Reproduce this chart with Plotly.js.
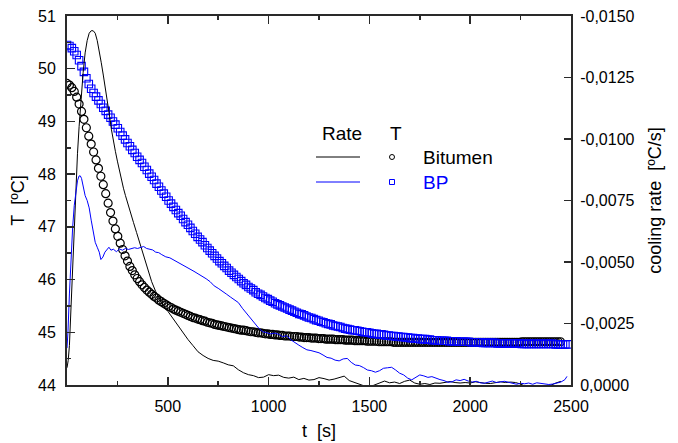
<!DOCTYPE html>
<html>
<head>
<meta charset="utf-8">
<script src="https://cdn.plot.ly/plotly-3.0.1.min.js"></script>
<style>html,body{margin:0;padding:0;background:#fff;}#chart{width:678px;height:443px;}</style>
</head>
<body>
<div id="chart"></div>
<script>
// ---- data ----
var tT = [
0,12,24,36,48,60,72,84,96,108,
120,132,144,156,168,180,192,204,216,228,
240,252,264,276,288,300,312,324,336,348,
360,372,384,396,408,420,432,444,456,468,
480,492,504,516,528,540,552,564,576,588,
600,612,624,636,648,660,672,684,696,708,
720,732,744,756,768,780,792,804,816,828,
840,852,864,876,888,900,912,924,936,948,
960,972,984,996,1008,1020,1032,1044,1056,1068,
1080,1092,1104,1116,1128,1140,1152,1164,1176,1188,
1200,1212,1224,1236,1248,1260,1272,1284,1296,1308,
1320,1332,1344,1356,1368,1380,1392,1404,1416,1428,
1440,1452,1464,1476,1488,1500,1512,1524,1536,1548,
1560,1572,1584,1596,1608,1620,1632,1644,1656,1668,
1680,1692,1704,1716,1728,1740,1752,1764,1776,1788,
1800,1812,1824,1836,1848,1860,1872,1884,1896,1908,
1920,1932,1944,1956,1968,1980,1992,2004,2016,2028,
2040,2052,2064,2076,2088,2100,2112,2124,2136,2148,
2160,2172,2184,2196,2208,2220,2232,2244,2256,2268,
2280,2292,2304,2316,2328,2340,2352,2364,2376,2388,
2400,2412,2424,2436,2448,2460,2472,2484];

var tempBitumen = [
49.72,49.69,49.64,49.57,49.46,49.33,49.19,49.04,48.88,48.72,
48.57,48.42,48.27,48.11,47.96,47.80,47.63,47.45,47.27,47.11,
46.96,46.82,46.69,46.57,46.45,46.35,46.25,46.17,46.09,46.02,
45.96,45.90,45.85,45.80,45.76,45.72,45.68,45.65,45.61,45.58,
45.55,45.52,45.49,45.47,45.44,45.42,45.40,45.38,45.36,45.34,
45.32,45.30,45.28,45.27,45.25,45.24,45.22,45.21,45.19,45.18,
45.17,45.15,45.14,45.13,45.12,45.11,45.10,45.09,45.08,45.07,
45.06,45.05,45.04,45.04,45.03,45.02,45.01,45.01,45.00,44.99,
44.99,44.98,44.97,44.97,44.96,44.96,44.95,44.95,44.94,44.94,
44.93,44.93,44.93,44.92,44.92,44.92,44.91,44.91,44.90,44.90,
44.90,44.89,44.89,44.89,44.88,44.88,44.88,44.87,44.87,44.87,
44.87,44.86,44.86,44.86,44.86,44.85,44.85,44.85,44.85,44.84,
44.84,44.84,44.84,44.84,44.83,44.83,44.83,44.83,44.83,44.82,
44.82,44.82,44.82,44.82,44.82,44.81,44.81,44.81,44.81,44.81,
44.81,44.81,44.81,44.81,44.81,44.81,44.81,44.81,44.81,44.81,
44.81,44.81,44.81,44.81,44.81,44.81,44.81,44.81,44.81,44.81,
44.81,44.81,44.81,44.81,44.81,44.81,44.81,44.81,44.81,44.81,
44.81,44.81,44.81,44.81,44.81,44.81,44.81,44.81,44.81,44.81,
44.81,44.81,44.81,44.81,44.81,44.81,44.81,44.81,44.82,44.82,
44.82,44.82,44.82,44.82,44.82,44.82,44.82,44.82,44.82,44.82,
44.82,44.82,44.82,44.82,44.82];

var tempBP = [
50.45,50.43,50.39,50.33,50.26,50.16,50.05,49.94,49.82,49.71,
49.62,49.54,49.47,49.40,49.33,49.26,49.20,49.13,49.07,49.00,
48.94,48.87,48.80,48.73,48.66,48.59,48.53,48.46,48.40,48.33,
48.27,48.21,48.14,48.08,48.01,47.95,47.89,47.82,47.76,47.69,
47.63,47.57,47.50,47.44,47.38,47.32,47.26,47.21,47.15,47.09,
47.04,46.98,46.92,46.87,46.81,46.76,46.71,46.65,46.60,46.55,
46.50,46.45,46.40,46.35,46.31,46.26,46.22,46.17,46.13,46.09,
46.05,46.01,45.97,45.93,45.90,45.86,45.83,45.80,45.76,45.73,
45.71,45.68,45.65,45.63,45.60,45.58,45.55,45.53,45.51,45.49,
45.47,45.45,45.43,45.41,45.39,45.37,45.35,45.34,45.32,45.30,
45.28,45.27,45.25,45.23,45.22,45.20,45.19,45.17,45.16,45.15,
45.13,45.12,45.11,45.10,45.08,45.07,45.06,45.05,45.04,45.04,
45.03,45.02,45.01,45.00,45.00,44.99,44.98,44.97,44.97,44.96,
44.96,44.95,44.94,44.94,44.93,44.93,44.92,44.92,44.91,44.91,
44.90,44.90,44.89,44.89,44.88,44.88,44.87,44.87,44.87,44.86,
44.86,44.85,44.85,44.85,44.84,44.84,44.84,44.84,44.83,44.83,
44.83,44.83,44.82,44.82,44.82,44.82,44.82,44.81,44.81,44.81,
44.81,44.81,44.80,44.80,44.80,44.80,44.80,44.80,44.79,44.79,
44.79,44.79,44.79,44.79,44.79,44.79,44.79,44.79,44.78,44.78,
44.78,44.78,44.78,44.78,44.78,44.78,44.78,44.78,44.78,44.78,
44.78,44.78,44.77,44.77,44.77,44.77,44.77,44.77];

var tRateBitumen = [0,6,12,20,28,36,44,52,60,70,80,90,100,110,120,130,140,150,160,170,180,190,200,210,220,230,240,250,260,270,280,290,300,315,330,345,360,380,400,420,440,460,480,500,525,550,575,600,625,650,675,700,725,750,775,800,825,850,875,900,925,950,975,1000,1025,1050,1075,1100,1125,1150,1175,1200,1225,1250,1275,1300,1325,1350,1375,1400,1425,1450,1475,1500,1525,1550,1575,1600,1625,1650,1675,1700,1725,1750,1775,1800,1825,1850,1875,1900,1925,1950,1975,2000,2025,2050,2075,2100,2125,2150,2175,2200,2225,2250,2275,2300,2325,2350,2375,2400,2425,2450];
var rateBitumen = [-0.0007,-0.0010,-0.0016,-0.0032,-0.0050,-0.0066,-0.0081,-0.0094,-0.0105,-0.0117,-0.0127,-0.0135,-0.0140,-0.0143,-0.0144,-0.0144,-0.0143,-0.0140,-0.0136,-0.0131,-0.0126,-0.0121,-0.0116,-0.0110,-0.0104,-0.0099,-0.0095,-0.0091,-0.0087,-0.0084,-0.0080,-0.0077,-0.0074,-0.0070,-0.0066,-0.0062,-0.0058,-0.0052,-0.0047,-0.0042,-0.0038,-0.0035,-0.0032,-0.0030,-0.0027,-0.0024,-0.0021,-0.00185,-0.0016,-0.00135,-0.0012,-0.00108,-0.0010,-0.00097,-0.0009,-0.00082,-0.00078,-0.00062,-0.0005,-0.00042,-0.00038,-0.0003,-0.00032,-0.00042,-0.00038,-0.0004,-0.00031,-0.00028,-0.00032,-0.00022,-0.00027,-0.0002,-0.00022,-0.0003,-0.00026,-0.0002,-0.00024,-0.00029,-0.00036,-0.00018,-0.0001,-0.00002,0.00004,0.00008,0.00001,-0.00008,-0.00016,-0.00009,-0.00012,-0.00006,-0.00015,-0.0002,-0.00008,-0.00003,-0.00006,-0.00002,-0.00008,-0.00007,-0.00011,-0.00014,-0.0001,-0.00008,-0.0001,-0.00008,-0.00013,-0.00009,-0.00007,-0.00006,-0.00009,-0.00013,-0.0001,-0.00012,-0.0001,-0.00004,0.00006,0.00016,0.0002,0.00014,0.00009,0.00001,-0.00008,-0.00015];

var tRateBP = [0,5,12,20,28,36,44,52,60,66,72,80,90,100,110,120,130,140,150,160,168,178,188,198,208,218,230,245,260,275,290,305,320,335,350,365,380,395,410,425,440,455,470,490,510,530,550,570,590,610,630,650,670,690,710,730,750,770,790,810,830,850,870,890,910,930,950,970,990,1010,1030,1050,1070,1090,1110,1130,1150,1170,1190,1210,1230,1250,1270,1290,1310,1330,1350,1370,1390,1410,1430,1450,1470,1490,1510,1530,1550,1570,1590,1610,1630,1650,1670,1690,1710,1730,1750,1770,1790,1810,1830,1850,1870,1890,1910,1930,1950,1970,1990,2010,2030,2050,2070,2090,2110,2130,2150,2170,2190,2210,2230,2250,2270,2290,2310,2330,2350,2370,2390,2410,2430,2450,2470,2480];
var rateBP = [-0.0015,-0.0022,-0.0037,-0.0052,-0.0064,-0.0073,-0.0079,-0.0083,-0.0085,-0.0085,-0.0084,-0.0081,-0.0077,-0.0075,-0.0072,-0.0067,-0.0062,-0.0058,-0.0056,-0.0054,-0.0051,-0.0052,-0.0054,-0.0055,-0.0056,-0.00548,-0.00552,-0.00542,-0.00553,-0.00548,-0.00555,-0.00551,-0.00556,-0.00558,-0.00555,-0.0056,-0.00563,-0.00555,-0.00552,-0.00549,-0.0054,-0.00538,-0.0053,-0.00521,-0.00517,-0.00508,-0.005,-0.00492,-0.0048,-0.00472,-0.00462,-0.00452,-0.00443,-0.00432,-0.0042,-0.00403,-0.00393,-0.0038,-0.0037,-0.00358,-0.00348,-0.00335,-0.00312,-0.00292,-0.00271,-0.00252,-0.00232,-0.00217,-0.00212,-0.00208,-0.00211,-0.00206,-0.00196,-0.00201,-0.00184,-0.00172,-0.00162,-0.00152,-0.00143,-0.0014,-0.00135,-0.00131,-0.00122,-0.00112,-0.00109,-0.00101,-0.00098,-0.00106,-0.00108,-0.00092,-0.00081,-0.00079,-0.00071,-0.00061,-0.00058,-0.00052,-0.00058,-0.00068,-0.0007,-0.00072,-0.00061,-0.00048,-0.00041,-0.00028,-0.00021,-0.00032,-0.00041,-0.00037,-0.00031,-0.00034,-0.00027,-0.00022,-0.00018,-0.00011,-0.00013,-0.00021,-0.00018,-0.00023,-0.00016,-0.00012,-0.00015,-0.00009,-0.00007,-0.00012,-0.00016,-0.0001,-0.00012,-0.00015,-0.00011,-0.00008,-0.00003,-0.00007,-0.00005,-0.00008,-0.00003,-0.00009,-0.00007,-0.00002,-0.00002,-0.00004,-0.00008,-0.00012,-0.00022,-0.00035];

var xTickVals = [500,1000,1500,2000,2500];
var xTickText = ['500','1000','1500','2000','2500'];
var yTickVals = [44,45,46,47,48,49,50,51];
var yTickText = ['44','45','46','47','48','49','50','51'];
var y2TickVals = [0,-0.0025,-0.005,-0.0075,-0.01,-0.0125,-0.015];
var y2TickText = ['0,0000','-0,0025','-0,0050','-0,0075','-0,0100','-0,0125','-0,0150'];

var seriesNames = ['Bitumen','BP'];
var seriesColors = ['#000000','#0000ff'];

// ---- chart ----
var FONT = 'Arial, "Liberation Sans", sans-serif';
var AX = '#2a2a2a';

var traces = [
  {x:tRateBitumen, y:rateBitumen, yaxis:'y2', type:'scatter', mode:'lines',
   line:{color:seriesColors[0], width:1}, showlegend:false, name:'Rate '+seriesNames[0]},
  {x:tRateBP, y:rateBP, yaxis:'y2', type:'scatter', mode:'lines',
   line:{color:seriesColors[1], width:1}, showlegend:false, name:'Rate '+seriesNames[1]},
  {x:tT, y:tempBitumen, type:'scatter', mode:'markers', showlegend:false, name:'T '+seriesNames[0],
   marker:{symbol:'circle-open', size:8, color:seriesColors[0], line:{width:1.2, color:seriesColors[0]}}},
  {x:tT, y:tempBP, type:'scatter', mode:'markers', showlegend:false, name:'T '+seriesNames[1],
   marker:{symbol:'square-open', size:7.5, color:seriesColors[1], line:{width:1.1, color:seriesColors[1]}}}
];

function px(x){ return (x-67)/504; }
function py(y){ return (385-y)/369; }

var layout = {
  width:678, height:443,
  margin:{l:67, r:107, t:16, b:58, pad:0},
  paper_bgcolor:'#ffffff', plot_bgcolor:'#ffffff',
  font:{family:FONT, color:'#000', size:16},
  showlegend:false,
  xaxis:{
    range:[0,2500], showgrid:false, zeroline:false,
    showline:true, linecolor:AX, linewidth:2, mirror:'ticks',
    ticks:'inside', ticklen:8, tickwidth:1.5, tickcolor:AX,
    tickmode:'array', tickvals:xTickVals, ticktext:xTickText,
    tickfont:{family:FONT, size:16, color:'#000'}, ticklabelstandoff:6,
    minor:{ticks:'inside', ticklen:4, tickwidth:1.5, tickcolor:AX, dtick:250, tick0:0, showgrid:false},
    title:{text:'t\u00a0 [s]', font:{family:FONT, size:18, color:'#000'}, standoff:10}
  },
  yaxis:{
    range:[44,51], showgrid:false, zeroline:false,
    showline:true, linecolor:AX, linewidth:2, mirror:false,
    ticks:'inside', ticklen:8, tickwidth:1.5, tickcolor:AX,
    tickmode:'array', tickvals:yTickVals, ticktext:yTickText,
    tickfont:{family:FONT, size:16, color:'#000'}, ticklabelstandoff:6,
    minor:{ticks:'inside', ticklen:4, tickwidth:1.5, tickcolor:AX, dtick:0.5, tick0:44, showgrid:false},
    title:{text:'T\u00a0 [ºC]', font:{family:FONT, size:18, color:'#000'}, standoff:9}
  },
  yaxis2:{
    overlaying:'y', side:'right', anchor:'x',
    range:[0,-0.015], showgrid:false, zeroline:false,
    showline:true, linecolor:AX, linewidth:2,
    ticks:'inside', ticklen:7, tickwidth:1.5, tickcolor:AX,
    tickmode:'array', tickvals:y2TickVals, ticktext:y2TickText,
    tickfont:{family:FONT, size:16, color:'#000'}, ticklabelstandoff:4,
    title:{text:'cooling rate\u00a0 [ºC/s]', font:{family:FONT, size:18, color:'#000'}, standoff:15}
  },
  shapes:[
    {type:'line', xref:'paper', yref:'paper', x0:px(316), x1:px(360), y0:py(157), y1:py(157), line:{color:seriesColors[0], width:1}},
    {type:'line', xref:'paper', yref:'paper', x0:px(316), x1:px(360), y0:py(182), y1:py(182), line:{color:seriesColors[1], width:1}},
    {type:'circle', xref:'paper', yref:'paper', xsizemode:'pixel', ysizemode:'pixel', xanchor:px(392), yanchor:py(157), x0:-2.5, x1:2.5, y0:-2.5, y1:2.5, line:{color:seriesColors[0], width:1}},
    {type:'rect', xref:'paper', yref:'paper', xsizemode:'pixel', ysizemode:'pixel', xanchor:px(392), yanchor:py(182), x0:-2.5, x1:2.5, y0:-2.5, y1:2.5, line:{color:seriesColors[1], width:1}}
  ],
  annotations:[
    {text:'Rate', xref:'paper', yref:'paper', x:px(342), y:py(133), xanchor:'center', yanchor:'middle', showarrow:false, font:{family:FONT, size:19, color:'#000'}},
    {text:'T', xref:'paper', yref:'paper', x:px(396), y:py(133), xanchor:'center', yanchor:'middle', showarrow:false, font:{family:FONT, size:19, color:'#000'}},
    {text:seriesNames[0], xref:'paper', yref:'paper', x:px(421), y:py(157), xanchor:'left', yanchor:'middle', showarrow:false, font:{family:FONT, size:19, color:seriesColors[0]}},
    {text:seriesNames[1], xref:'paper', yref:'paper', x:px(421), y:py(182), xanchor:'left', yanchor:'middle', showarrow:false, font:{family:FONT, size:19, color:seriesColors[1]}}
  ]
};

Plotly.newPlot('chart', traces, layout, {displayModeBar:false, staticPlot:true});
</script>
</body>
</html>
